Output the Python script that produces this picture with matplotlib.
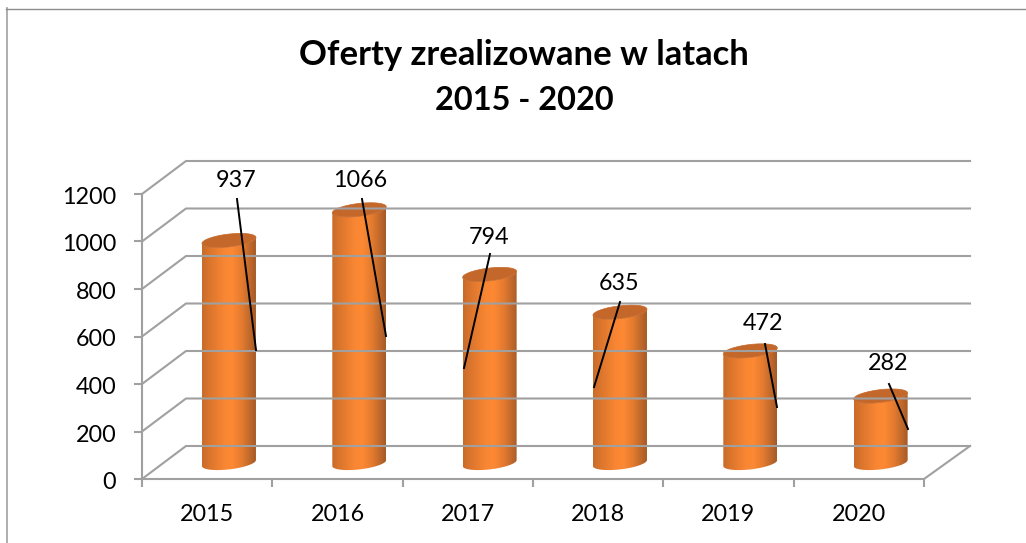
import numpy as np
from matplotlib import pyplot as plt
from matplotlib.colors import LinearSegmentedColormap
from matplotlib.lines import Line2D
from matplotlib.patches import Polygon
from matplotlib.transforms import Affine2D, IdentityTransform

W, H = 1026, 543

years = ["2015", "2016", "2017", "2018", "2019", "2020"]
offers = [937, 1066, 794, 635, 472, 282]
value_ticks = [0, 200, 400, 600, 800, 1000, 1200]

# pixel layout of the data labels and their leader lines
label_xy = [(236, 181), (360, 181), (489, 238), (619, 283), (763, 324), (888, 364)]
leader_start = [(237, 199), (362, 199), (490, 254), (620, 302), (765, 344), (889, 384)]
leader_end = [(256, 350), (386, 336), (464, 368), (594, 387), (777, 407), (908, 429)]

GREY = "#a0a0a0"
plt.rcParams["font.family"] = ["Lato", "DejaVu Sans"]


def fx(x):
    return x / W


def fy(y):
    return 1 - y / H


def draw_cylinder(ax, x, value, dx, dy, half_w=27, ry=6.4, tilt=3.0):
    """ Draws a tilted cylinder in display pixels, anchored by the data axes. """
    bx, by = ax.transData.transform((x, 0))
    tx, ty = ax.transData.transform((x, value))
    bx, by, tx, ty = bx + dx, by + dy, tx + dx, ty + dy

    t = np.linspace(0, 2 * np.pi, 121)
    ex = half_w * np.cos(t)
    ey = ry * np.sin(t) + tilt * np.cos(t)

    # lower half of the ellipse, left to right
    lower = t >= np.pi
    low_x, low_y = ex[lower], ey[lower]

    body = np.vstack([
        np.column_stack([bx + low_x, by + low_y]),
        np.column_stack([tx + low_x, ty + low_y])[::-1],
    ])
    clip = Polygon(body, closed=True, transform=IdentityTransform(), fc="none", ec="none")
    ax.add_patch(clip)

    cmap = LinearSegmentedColormap.from_list(
        "cyl", [(0, "#c86c29"), (0.15, "#dc762d"), (0.42, "#f98633"), (0.56, "#fd8934"),
                (0.75, "#e27a2f"), (0.9, "#bd672b"), (1, "#a65a26")])
    grad = np.linspace(0, 1, 256).reshape(1, -1)
    im = ax.imshow(grad, cmap=cmap, aspect="auto", interpolation="bilinear",
                   extent=(bx - half_w, bx + half_w, by - 20, ty + 20),
                   transform=IdentityTransform(), zorder=3, clip_on=True)
    im.set_clip_path(clip)

    top = Polygon(np.column_stack([tx + ex, ty + ey]), closed=True,
                  transform=IdentityTransform(), fc="#c4672a", ec="#c4672a", lw=0.5, zorder=4,
                  clip_on=False)
    ax.add_patch(top)


def visualize():
    fig = plt.figure(figsize=(W / 100, H / 100), dpi=100)

    # front plane of the 3D box
    left, right, top, bottom = 142, 924, 194, 479
    ax = fig.add_axes([fx(left), fy(bottom), (right - left) / W, (bottom - top) / H])
    ax.set_xlim(0, len(years))
    ax.set_ylim(0, value_ticks[-1])
    ax.patch.set_alpha(0)

    for name in ("top", "right"):
        ax.spines[name].set_visible(False)
    for name in ("left", "bottom"):
        ax.spines[name].set_color(GREY)
        ax.spines[name].set_linewidth(1.5)

    ax.set_xticks(range(len(years) + 1))
    ax.set_xticklabels([])
    ax.set_xticks([i + 0.5 for i in range(len(years))], minor=True)
    ax.set_xticklabels(years, minor=True, fontsize=16.8, color="black")
    ax.tick_params(axis="x", which="minor", length=0, pad=18)
    ax.tick_params(axis="x", which="major", length=6, width=1.5, color=GREY)
    ax.set_yticks(value_ticks)
    ax.set_yticklabels(value_ticks, fontsize=16.8, color="black")
    ax.tick_params(axis="y", length=6, width=1.5, color=GREY, pad=12.5)
    for label in ax.get_yticklabels():
        label.set_transform(label.get_transform() + Affine2D().translate(0, -1.5))

    # box depth in pixels: walls use all of it, the bars sit half way in
    depth_x, depth_y = 44, 33
    trans = ax.transData
    for v in value_ticks:
        x0, y0 = trans.transform((0, v))
        x1, y1 = trans.transform((len(years), v))
        fig.add_artist(Line2D(
            [x0, x0 + depth_x, x1 + depth_x + 2], [y0, y0 + depth_y, y0 + depth_y],
            transform=IdentityTransform(), color=GREY, lw=1.5, solid_joinstyle="miter", zorder=1))
    x1, y1 = trans.transform((len(years), 0))
    fig.add_artist(Line2D([x1, x1 + depth_x + 2], [y1, y1 + depth_y],
                          transform=IdentityTransform(), color=GREY, lw=1.5, zorder=1))

    for i, value in enumerate(offers):
        draw_cylinder(ax, i + 0.5, value, 21.8, 16.0)
    ax.set_xlim(0, len(years))
    ax.set_ylim(0, value_ticks[-1])

    for (lx, ly), (sx, sy), (ex, ey), value in zip(label_xy, leader_start, leader_end, offers):
        fig.text(fx(lx), fy(ly), str(value), fontsize=16.8, color="black",
                 ha="center", va="center", zorder=6)
        fig.add_artist(Line2D([fx(sx), fx(ex)], [fy(sy), fy(ey)], color="black", lw=1.4, zorder=6))

    fig.text(fx(524), fy(55), "Oferty zrealizowane w latach", fontsize=24.9, fontweight="bold",
             ha="center", va="center", color="black")
    fig.text(fx(524), fy(101), "2015 - 2020", fontsize=23.4, fontweight="bold",
             ha="center", va="center", color="black")

    # chart frame, only the top and left edges are inside the crop
    fig.add_artist(Line2D([fx(6.5), fx(6.5)], [0, fy(8)], color="#a8a8a8", lw=1.3))
    fig.add_artist(Line2D([fx(6), 1], [fy(8.5), fy(8.5)], color="#8c8c8c", lw=1.0))

    fig.savefig("out.png", dpi=100)
    plt.close(fig)


if __name__ == '__main__':
    visualize()
